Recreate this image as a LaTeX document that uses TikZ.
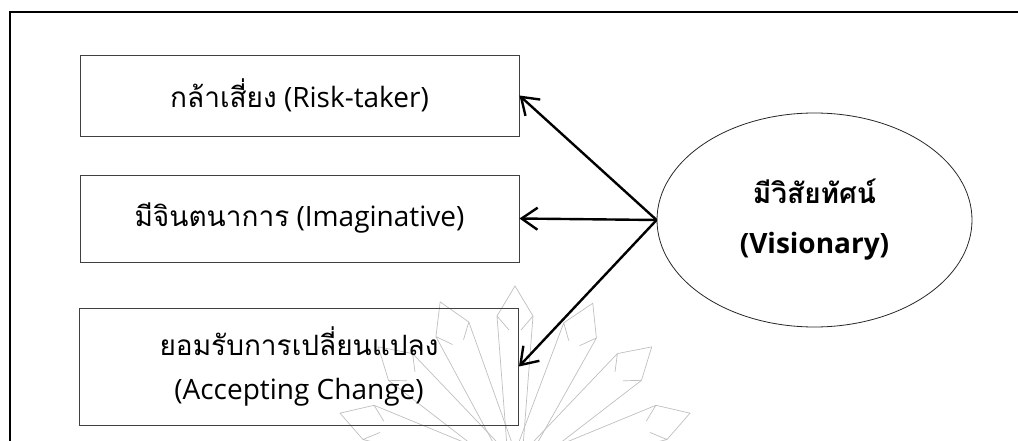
\documentclass[tikz,border=0pt]{standalone}
\usepackage{fontspec}
\setmainfont{Open Sans}
\newfontfamily\thaifont[Script=Thai]{Loma}
\usetikzlibrary{arrows.meta,shapes.geometric}

\tikzset{
  itembox/.style={draw=black!75, line width=0.9pt, minimum width=439pt, align=center,
    font=\fontsize{28}{44}\selectfont},
  visionoval/.style={ellipse, draw=black!85, line width=0.8pt, minimum width=315pt,
    minimum height=214pt, inner sep=0pt, align=center, font=\fontsize{28}{50}\selectfont\bfseries},
  barb/.style={-{Straight Barb[length=16pt,width=22pt]}, line width=2.4pt},
  petal/.style={draw=black!25, line width=0.7pt}
}

\begin{document}
\begin{tikzpicture}[x=1pt,y=-1pt]
  \useasboundingbox (0,0) rectangle (1018,441);
  % faint watermark behind the boxes
  \foreach \a in {-72,-48,-25,0,24,48,72}
  {
    \draw[petal, rotate around={\a:(515,470)}]
      (509,330) -- (497,316) -- (515,286) -- (533,316) -- (521,330)
      (497,316) -- (508,460) (533,316) -- (522,460);
  }
  \draw[line width=2pt] (10,441) -- (10,12) -- (1018,12);

  \node[itembox, minimum height=81pt] (risk) at (299.5,95.5)
    {{\thaifont กล้าเสี่ยง} (Risk-taker)};
  \node[itembox, minimum height=87pt] (imag) at (299.5,218.5)
    {{\thaifont มีจินตนาการ} (Imaginative)};
  \node[itembox, minimum height=117pt] (change) at (299,366.5)
    {{\thaifont ยอมรับการเปลี่ยนแปลง}\\(Accepting Change)};
  \node[visionoval] (vision) at (814.5,220)
    {{\thaifont มีวิสัยทัศน์}\\(Visionary)};

  \draw[barb] (vision.west) -- (risk.east);
  \draw[barb] (vision.west) -- (imag.east);
  \draw[barb] (vision.west) -- (change.east);
\end{tikzpicture}
\end{document}
